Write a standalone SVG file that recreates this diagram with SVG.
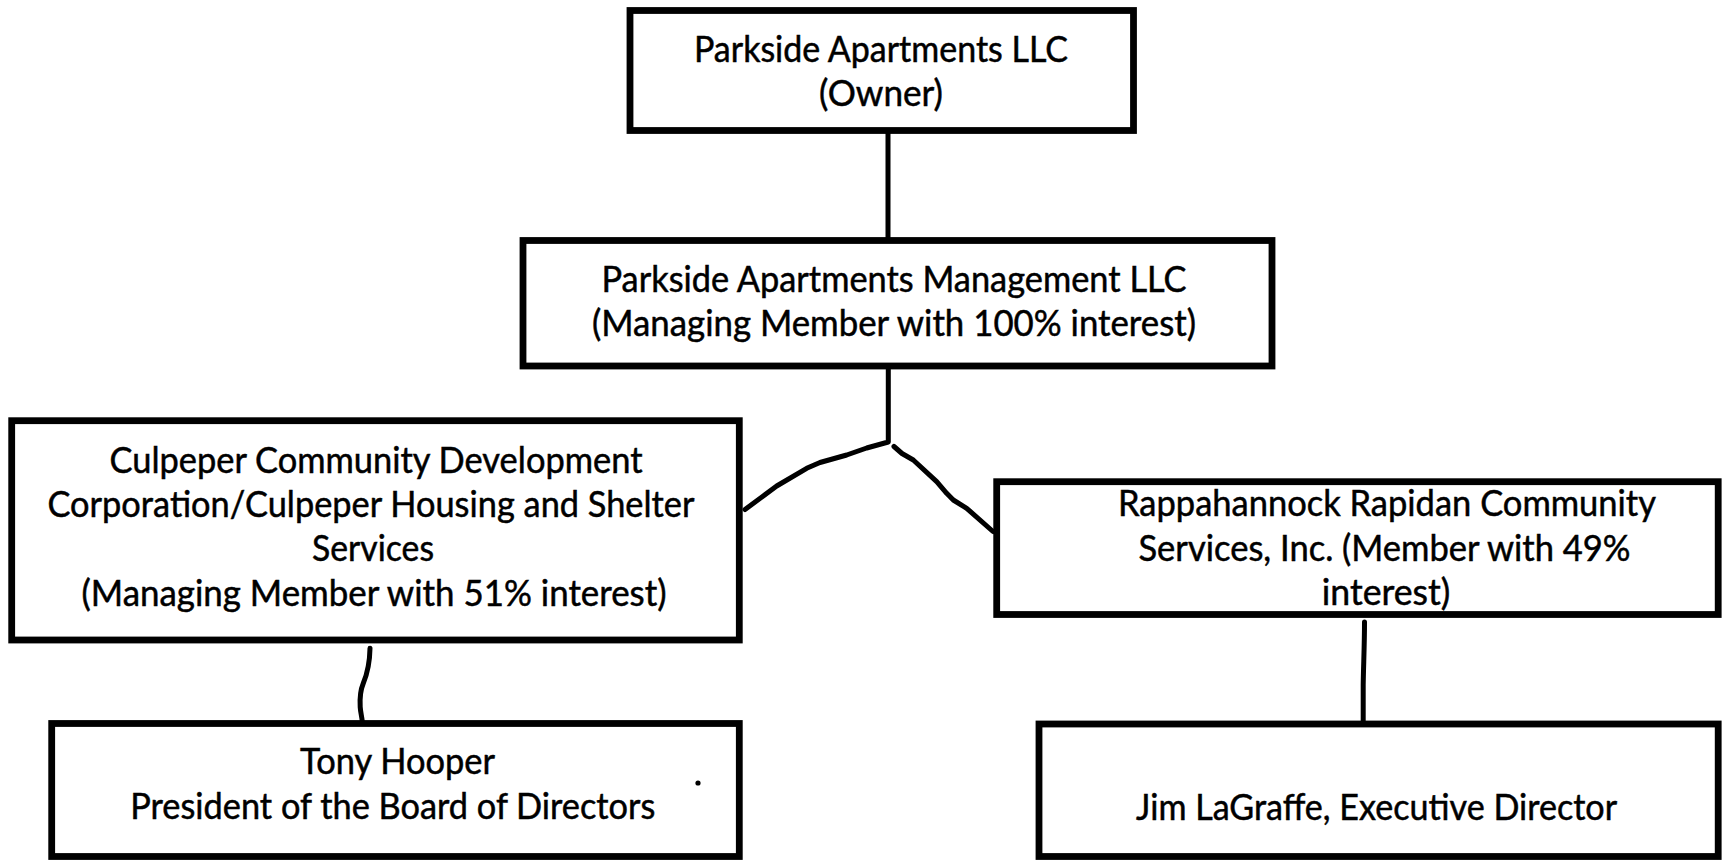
<svg xmlns="http://www.w3.org/2000/svg" width="1724" height="860" viewBox="0 0 1724 860">
<style>
.box{fill:#fff;stroke:#000;stroke-width:6.8;stroke-linejoin:miter}
.ln{fill:none;stroke:#000;stroke-width:5;stroke-linecap:round;stroke-linejoin:round}
text{font-family:Lato,"Open Sans","Liberation Sans",sans-serif;font-size:36px;fill:#000;stroke:#000;stroke-width:0.5;text-anchor:middle}
</style>
<rect width="1724" height="860" fill="#fff"/>
<g id="connectors">
<path class="ln" d="M888 133 L888 238"/>
<path class="ln" d="M888.3 368 L888.3 442 L866.7 448 L846.7 455 L820 462.5 L806.7 468.3 L776.7 486 L763.3 496 L745 509.5"/>
<path class="ln" d="M894 446.5 L902 453.5 L913.3 460 L936.7 481.7 L946.7 493.3 L953.3 500 L966.7 508.3 L993 531.5"/>
<path class="ln" d="M370 648.3 C369.8 660,368 672,363.3 683.3 C360.5 690,359.8 700,360.2 707 C360.6 713,362 717,362.3 722"/>
<path class="ln" d="M1364.5 622 C1364.5 645,1363.5 665,1363.2 685 L1363.2 722"/>
</g>
<g id="n1">
<rect class="box" x="630" y="10.5" width="503.5" height="120"/>
<text x="881" y="62" textLength="374" lengthAdjust="spacingAndGlyphs">Parkside Apartments LLC</text>
<text x="881" y="106" textLength="124" lengthAdjust="spacingAndGlyphs">(Owner)</text>
</g>
<g id="n2">
<rect class="box" x="523" y="240.5" width="749" height="125.5"/>
<text x="894" y="291.5" textLength="585" lengthAdjust="spacingAndGlyphs">Parkside Apartments Management LLC</text>
<text x="894" y="335.5" textLength="604" lengthAdjust="spacingAndGlyphs">(Managing Member with 100% interest)</text>
</g>
<g id="n3">
<rect class="box" x="11.7" y="420.7" width="727.6" height="219.3"/>
<text x="376" y="473" textLength="533" lengthAdjust="spacingAndGlyphs">Culpeper Community Development</text>
<text x="371" y="517" textLength="647" lengthAdjust="spacingAndGlyphs">Corporation/Culpeper Housing and Shelter</text>
<text x="373" y="561" textLength="122" lengthAdjust="spacingAndGlyphs">Services</text>
<text x="374" y="606" textLength="585" lengthAdjust="spacingAndGlyphs">(Managing Member with 51% interest)</text>
</g>
<g id="n4">
<rect class="box" x="996.7" y="481.7" width="721.5" height="132.8"/>
<text x="1387" y="516" textLength="538" lengthAdjust="spacingAndGlyphs">Rappahannock Rapidan Community</text>
<text x="1384.5" y="560.5" textLength="492" lengthAdjust="spacingAndGlyphs">Services, Inc. (Member with 49%</text>
<text x="1386" y="605" textLength="128.5" lengthAdjust="spacingAndGlyphs">interest)</text>
</g>
<g id="n5">
<rect class="box" x="51.7" y="723.5" width="687.6" height="133"/>
<text x="397.5" y="774" textLength="195" lengthAdjust="spacingAndGlyphs">Tony Hooper</text>
<text x="392.8" y="819" textLength="525" lengthAdjust="spacingAndGlyphs">President of the Board of Directors</text>
<circle cx="698" cy="783" r="2.6" fill="#000"/>
</g>
<g id="n6">
<rect class="box" x="1039" y="724" width="679.2" height="132.5"/>
<text x="1376.6" y="819.5" textLength="481" lengthAdjust="spacingAndGlyphs">Jim LaGraffe, Executive Director</text>
</g>
</svg>
